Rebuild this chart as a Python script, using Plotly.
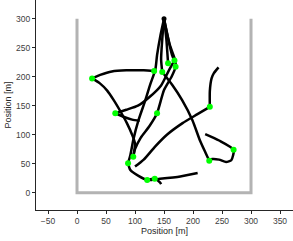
import plotly.graph_objects as go

# Arena outline (open at top)
arena_x = [0, 0, 300, 300]
arena_y = [300, 0, 0, 300]

# Trajectories (data units, metres)
traj_a_x = [26, 40, 60, 85, 115, 133]
traj_a_y = [197, 203, 209, 211, 211, 210]

traj_b_x = [26, 40, 52, 63, 75, 86, 95, 100, 97]
traj_b_y = [197, 188, 176, 160, 140, 120, 100, 85, 62]

traj_c_x = [66, 85, 105, 125, 145, 158, 168]
traj_c_y = [137, 143, 150, 165, 185, 210, 228]

traj_d_x = [66, 80, 95, 108]
traj_d_y = [137, 131, 126, 124]

traj_e_x = [150, 147, 145, 147]
traj_e_y = [300, 265, 230, 208]

traj_f_x = [150, 154, 157]
traj_f_y = [300, 265, 223]

traj_g_x = [150, 157, 164, 168]
traj_g_y = [300, 266, 237, 228]

traj_h_x = [150, 160, 169, 170, 163, 150, 138, 125, 110, 100, 97]
traj_h_y = [300, 255, 229, 217, 200, 177, 137, 115, 95, 75, 62]

traj_i_x = [147, 164, 181, 199, 212, 222, 228]
traj_i_y = [208, 186, 160, 125, 90, 68, 55]

traj_j_x = [229, 207, 182, 155, 135, 115, 100]
traj_j_y = [148, 135, 120, 100, 80, 57, 45]

traj_k_x = [229, 229, 232, 236, 244]
traj_k_y = [148, 175, 197, 206, 216]

traj_l_x = [221, 245, 270, 266, 257, 245, 233, 228]
traj_l_y = [101, 90, 74, 56, 53, 57, 58, 55]

traj_m_x = [88, 92, 106, 121, 143, 178, 208]
traj_m_y = [51, 39, 29, 22, 24, 28, 34]

traj_n_x = [121, 134, 143, 145]
traj_n_y = [22, 24, 18, 15]

traj_o_x = [150, 144, 138, 135, 126, 118, 106, 97, 92, 88]
traj_o_y = [300, 272, 237, 212, 186, 160, 125, 91, 65, 51]

trajs = [
    (traj_a_x, traj_a_y), (traj_b_x, traj_b_y), (traj_c_x, traj_c_y),
    (traj_d_x, traj_d_y), (traj_e_x, traj_e_y), (traj_f_x, traj_f_y),
    (traj_g_x, traj_g_y), (traj_h_x, traj_h_y), (traj_i_x, traj_i_y),
    (traj_j_x, traj_j_y), (traj_k_x, traj_k_y), (traj_l_x, traj_l_y),
    (traj_m_x, traj_m_y), (traj_n_x, traj_n_y), (traj_o_x, traj_o_y),
]

# Green markers (start points)
green_x = [26, 66, 97, 88, 121, 134, 228, 270, 229, 133, 147, 157, 168, 170, 138]
green_y = [197, 137, 62, 51, 22, 24, 55, 74, 148, 210, 208, 223, 228, 217, 137]

# Black marker (common point)
black_x = [150]
black_y = [300]

fig = go.Figure()
fig.add_trace(go.Scatter(x=arena_x, y=arena_y, mode="lines",
                         line=dict(color="#b3b3b3", width=3), hoverinfo="skip"))
for tx, ty in trajs:
    fig.add_trace(go.Scatter(x=tx, y=ty, mode="lines",
                             line=dict(color="black", width=2.5, shape="spline", smoothing=0.6)))
fig.add_trace(go.Scatter(x=green_x, y=green_y, mode="markers",
                         marker=dict(color="#00ff00", size=6)))
fig.add_trace(go.Scatter(x=black_x, y=black_y, mode="markers",
                         marker=dict(color="black", size=5)))

axis_common = dict(
    showgrid=False, zeroline=False, showline=True, linecolor="#262626", linewidth=1,
    ticks="outside", ticklen=3, tickcolor="#262626", automargin=False,
    tickfont=dict(family="Liberation Sans, Arial", size=8.5, color="#404040"),
)
fig.update_layout(
    width=293, height=241,
    margin=dict(l=36, r=0, t=0, b=31),
    paper_bgcolor="white", plot_bgcolor="white",
    showlegend=False,
    xaxis=dict(range=[-70.7, 372.4], tickvals=[-50, 0, 50, 100, 150, 200, 250, 300, 350],
               title=dict(text="Position [m]", standoff=2,
                          font=dict(family="Liberation Sans, Arial", size=9, color="#262626")),
               **axis_common),
    yaxis=dict(range=[-29.8, 332.2], tickvals=[0, 50, 100, 150, 200, 250, 300],
               title=dict(text="Position [m]", standoff=2,
                          font=dict(family="Liberation Sans, Arial", size=9, color="#262626")),
               **axis_common),
)
fig.write_html("out.html", config={"displayModeBar": False},
               post_script="document.body.style.margin='0';document.body.style.padding='0';document.body.style.overflow='hidden';")
